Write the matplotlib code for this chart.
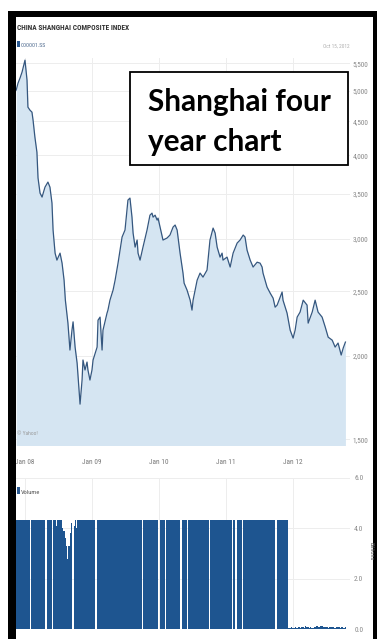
import datetime as dt
import matplotlib
matplotlib.use("Agg")
import matplotlib.pyplot as plt
import matplotlib.dates as mdates
from matplotlib import font_manager as fm
from matplotlib.font_manager import FontProperties
from matplotlib.patches import Rectangle
from matplotlib.textpath import TextPath
from matplotlib.ticker import NullLocator

# ---------------- data ----------------
price_dates = [
    "2007-11-14", "2007-11-24", "2007-12-05", "2007-12-16", "2008-01-01", "2008-01-12",
    "2008-01-17", "2008-01-28", "2008-02-08", "2008-02-14", "2008-02-24", "2008-03-06",
    "2008-03-12", "2008-03-23", "2008-04-03", "2008-04-19", "2008-05-05", "2008-05-16",
    "2008-05-27", "2008-06-02", "2008-06-13", "2008-06-23", "2008-07-10", "2008-07-21",
    "2008-08-01", "2008-08-08", "2008-08-22", "2008-09-02", "2008-09-13", "2008-09-19",
    "2008-09-30", "2008-10-11", "2008-10-27", "2008-11-07", "2008-11-12", "2008-11-23",
    "2008-12-04", "2008-12-09", "2008-12-20", "2008-12-31", "2009-01-06", "2009-01-28",
    "2009-02-02", "2009-02-13", "2009-02-24", "2009-03-01", "2009-03-23", "2009-03-28",
    "2009-04-08", "2009-04-25", "2009-05-06", "2009-05-22", "2009-06-13", "2009-06-29",
    "2009-07-15", "2009-07-26", "2009-08-06", "2009-08-12", "2009-08-23", "2009-09-03",
    "2009-09-08", "2009-09-19", "2009-10-05", "2009-10-27", "2009-11-12", "2009-11-23",
    "2009-11-29", "2009-12-10", "2009-12-21", "2009-12-26", "2010-01-06", "2010-01-22",
    "2010-02-13", "2010-03-01", "2010-03-18", "2010-03-29", "2010-04-09", "2010-04-25",
    "2010-05-11", "2010-05-17", "2010-06-02", "2010-06-19", "2010-06-29", "2010-07-05",
    "2010-07-16", "2010-07-27", "2010-08-12", "2010-08-28", "2010-09-19", "2010-10-05",
    "2010-10-22", "2010-11-02", "2010-11-13", "2010-11-29", "2010-12-10", "2010-12-15",
    "2011-01-06", "2011-01-23", "2011-02-08", "2011-03-02", "2011-03-18", "2011-04-04",
    "2011-04-14", "2011-04-25", "2011-05-12", "2011-05-28", "2011-06-19", "2011-07-05",
    "2011-07-16", "2011-07-21", "2011-08-01", "2011-08-12", "2011-08-29", "2011-09-14",
    "2011-09-25", "2011-10-06", "2011-10-22", "2011-11-02", "2011-11-07", "2011-11-29",
    "2011-12-16", "2012-01-01", "2012-01-12", "2012-01-23", "2012-02-08", "2012-02-25",
    "2012-03-17", "2012-03-23", "2012-04-14", "2012-04-30", "2012-05-16", "2012-06-07",
    "2012-06-24", "2012-07-10", "2012-08-01", "2012-08-17", "2012-09-02", "2012-09-19",
    "2012-09-30", "2012-10-12",
]
price_values = [
    5012, 5134, 5226, 5334, 5559, 5189,
    4725, 4677, 4644, 4517, 4260, 4044,
    3700, 3511, 3463, 3584, 3647, 3584,
    3392, 3090, 2853, 2785, 2853, 2756,
    2598, 2425, 2240, 2041, 2186, 2250,
    2062, 1951, 1693, 1840, 1972, 1905,
    1958, 1905, 1840, 1905, 1972, 2062,
    2263, 2287, 2041, 2186, 2319, 2343,
    2425, 2511, 2598, 2756, 3016, 3090,
    3427, 3451, 3231, 3058, 2913, 2985,
    2853, 2785, 2913, 3090, 3253, 3276,
    3231, 3253, 3198, 3220, 3122, 2985,
    3006, 3037, 3122, 3144, 3090, 2853,
    2663, 2572, 2511, 2425, 2343, 2425,
    2511, 2598, 2663, 2626, 2691, 2985,
    3111, 3058, 2913, 2814, 2853, 2785,
    2814, 2719, 2853, 2954, 2985, 3037,
    3016, 2883, 2785, 2719, 2765, 2756,
    2719, 2663, 2598, 2537, 2485, 2442,
    2367, 2384, 2450, 2494, 2425, 2319,
    2186, 2127, 2186, 2287, 2327, 2425,
    2384, 2240, 2327, 2425, 2327, 2287,
    2210, 2134, 2112, 2062, 2091, 2006,
    2055, 2098,
]
price_ticks = [1500, 2000, 2500, 3000, 3500, 4000, 4500, 5000, 5500]
price_tick_labels = ["1,500", "2,000", "2,500", "3,000", "3,500", "4,000", "4,500", "5,000", "5,500"]
year_ticks = ["2008-01-01", "2009-01-01", "2010-01-01", "2011-01-01", "2012-01-01"]
year_labels = ["Jan 08", "Jan 09", "Jan 10", "Jan 11", "Jan 12"]

# weekly volume (billions), first week starting Monday 2007-11-12
volume_first_week = "2007-11-12"
volume_values = [
    4.35, 4.35, 4.35, 4.35, 4.35, 4.35, 4.35, 4.35, 4.35, 4.35, 4.35, 0.0, 4.35,
    4.35, 4.35, 4.35, 4.35, 4.35, 4.35, 4.35, 4.35, 4.35, 4.35, 0.0, 4.35, 4.35,
    4.35, 4.35, 0.0, 4.35, 4.35, 4.1, 4.35, 4.35, 4.35, 4.35, 4.0, 3.9, 3.6,
    3.3, 2.8, 3.3, 3.8, 4.2, 0.0, 4.1, 4.35, 4.0, 4.35, 4.35, 4.35, 4.35,
    4.35, 4.35, 4.35, 4.35, 4.35, 4.35, 4.35, 4.35, 4.35, 4.35, 0.0, 4.35, 4.35,
    4.35, 4.35, 4.35, 4.35, 4.35, 4.35, 4.35, 4.35, 4.35, 4.35, 4.35, 4.35, 4.35,
    4.35, 4.35, 4.35, 4.35, 4.35, 4.35, 4.35, 4.35, 4.35, 4.35, 4.35, 4.35, 4.35,
    4.35, 4.35, 4.35, 4.35, 4.35, 4.35, 4.35, 0.0, 4.35, 4.35, 4.35, 4.35, 4.35,
    4.35, 4.35, 4.35, 4.35, 4.35, 4.35, 4.35, 0.0, 4.35, 4.35, 4.35, 4.35, 0.0,
    4.35, 4.35, 4.35, 4.35, 4.35, 4.35, 4.35, 4.35, 4.35, 4.35, 4.35, 0.0, 4.35,
    4.35, 4.35, 4.35, 0.0, 4.35, 4.35, 4.35, 4.35, 4.35, 4.35, 4.35, 4.35, 4.35,
    4.35, 4.35, 4.35, 4.35, 4.35, 4.35, 4.35, 0.0, 4.35, 4.35, 4.35, 4.35, 4.35,
    4.35, 4.35, 4.35, 4.35, 4.35, 4.35, 4.35, 4.35, 4.35, 4.35, 4.35, 4.35, 0.0,
    4.35, 4.35, 0.0, 4.35, 4.35, 4.35, 4.35, 0.0, 4.35, 4.35, 4.35, 4.35, 4.35,
    4.35, 4.35, 4.35, 4.35, 4.35, 4.35, 4.35, 4.35, 4.35, 4.35, 4.35, 4.35, 4.35,
    4.35, 4.35, 4.35, 4.35, 4.35, 4.35, 4.35, 0.0, 4.35, 4.35, 4.35, 4.35, 4.35,
    4.35, 4.35, 4.35, 4.35, 0.05, 0.04, 0.06, 0.05, 0.04, 0.07, 0.05, 0.04, 0.06,
    0.05, 0.08, 0.06, 0.05, 0.10, 0.07, 0.06, 0.05, 0.06, 0.04, 0.05, 0.07, 0.09,
    0.12, 0.08, 0.06, 0.10, 0.11, 0.07, 0.06, 0.08, 0.07, 0.05, 0.06, 0.09, 0.06,
    0.07, 0.05, 0.06, 0.08, 0.06, 0.05, 0.07, 0.06, 0.05, 0.06,
]
volume_ticks = [0, 2, 4, 6]
volume_tick_labels = ["0.0", "2.0", "4.0", "6.0"]

# ---------------- styling helpers ----------------
W, H = 377, 639
fig = plt.figure(figsize=(W / 100, H / 100), dpi=100)
fig.patch.set_facecolor("white")


def rect(l, t, r, b):
    return [l / W, 1 - b / H, (r - l) / W, (b - t) / H]


names = {f.name for f in fm.fontManager.ttflist}
NARROW, STRETCH = None, "normal"
for cand in ["Liberation Sans Narrow", "Arial Narrow", "Roboto Condensed", "Open Sans Condensed", "DejaVu Sans Condensed"]:
    if cand in names:
        NARROW = cand
        break
if NARROW is None:
    if any(f.name == "DejaVu Sans" and f.stretch == "condensed" for f in fm.fontManager.ttflist):
        NARROW, STRETCH = "DejaVu Sans", "condensed"
    elif "Roboto" in names:
        NARROW = "Roboto"
    else:
        NARROW = "DejaVu Sans"


def fprop(size, weight="normal", family=None):
    return FontProperties(family=family or NARROW, weight=weight,
                          stretch=STRETCH if family is None else "normal", size=size)


def fit_size(s, target_w, cap_px, weight="normal", family=None):
    fp = fprop(10, weight, family)
    w_pt = TextPath((0, 0), s, prop=fp).get_extents().width
    size_w = 10 * target_w / (w_pt * 100 / 72)
    return min(size_w, cap_px)


# ---------------- price panel ----------------
pd_dates = [dt.datetime.strptime(d, "%Y-%m-%d") for d in price_dates]
xl = (dt.datetime(2007, 11, 13), dt.datetime(2012, 11, 6))
yticks_dates = [dt.datetime.strptime(d, "%Y-%m-%d") for d in year_ticks]

ax = fig.add_axes(rect(16, 58, 350, 445))
ax.set_yscale("log")
ax.fill_between(pd_dates, price_values, 1000, color="#d5e5f2", lw=0, zorder=2)
ax.plot(pd_dates, price_values, color="#35577f", lw=0.9, zorder=3)
ax.set_xlim(*xl)
ax.set_ylim(1470, 5600)
lab_size = fit_size("5,500", 15, 7)
ax.yaxis.tick_right()
ax.set_yticks(price_ticks, price_tick_labels, fontproperties=fprop(lab_size))
ax.yaxis.set_minor_locator(NullLocator())
ax.tick_params(axis="y", length=0, pad=2, labelcolor="#8a8a8a")
ax.set_xticks(yticks_dates, year_labels, fontproperties=fprop(fit_size("Jan 08", 19, 7)))
ax.xaxis.set_minor_locator(NullLocator())
ax.tick_params(axis="x", length=0, pad=10, labelcolor="#7a7a7a")
ax.grid(True, color="#ededed", lw=0.7)
ax.set_axisbelow(True)
for sp in ax.spines.values():
    sp.set_visible(False)
ax.text(0.004, 0.03, "\u00a9 Yahoo!", transform=ax.transAxes, color="#9a9a9a",
        fontproperties=fprop(fit_size("\u00a9 Yahoo!", 20, 6)), va="center", ha="left", zorder=4)

# ---------------- volume panel ----------------
vstart = dt.datetime.strptime(volume_first_week, "%Y-%m-%d")
vdates = [vstart + dt.timedelta(days=7 * i) for i in range(len(volume_values))]
av = fig.add_axes(rect(16, 478, 350, 629))
av.bar(vdates, volume_values, width=7, align="edge", color="#1e5590", lw=0, zorder=3)
av.set_xlim(*xl)
av.set_ylim(0, 6)
av.yaxis.tick_right()
av.set_yticks(volume_ticks, volume_tick_labels, fontproperties=fprop(lab_size))
av.tick_params(axis="y", length=0, pad=3, labelcolor="#8a8a8a")
av.set_xticks(yticks_dates, [""] * len(yticks_dates))
av.tick_params(axis="x", length=0)
av.grid(True, color="#ededed", lw=0.7)
av.set_axisbelow(True)
for sp in av.spines.values():
    sp.set_visible(False)

# ---------------- overlay (frame, titles, annotation box) ----------------
ov = fig.add_axes([0, 0, 1, 1], zorder=10)
ov.set_xlim(0, W)
ov.set_ylim(H, 0)
ov.axis("off")
ov.patch.set_alpha(0)

# black screenshot frame
ov.add_patch(Rectangle((7.5, 10.5), 8, H - 10.5, color="black", lw=0))
ov.add_patch(Rectangle((7.5, 10.5), W - 7.5, 6, color="black", lw=0))
ov.add_patch(Rectangle((372.5, 10.5), W - 372.5, H - 10.5, color="black", lw=0))

title = "CHINA SHANGHAI COMPOSITE INDEX"
ov.text(17, 30, title, color="#333333", ha="left", va="baseline",
        fontproperties=fprop(fit_size(title, 111, 7.5, weight="bold"), weight="bold"))
ov.add_patch(Rectangle((16.5, 40.5), 3.5, 6.5, color="#2b5a92", lw=0))
ov.text(21, 47, "000001.SS", color="#4f6b8f", ha="left", va="baseline",
        fontproperties=fprop(fit_size("000001.SS", 24, 7)))
ov.text(350, 48, "Oct 15, 2012", color="#b0b0b0", ha="right", va="baseline",
        fontproperties=fprop(fit_size("Oct 15, 2012", 26, 6.5)))

ov.add_patch(Rectangle((16.5, 487), 3, 6.5, color="#2b5a92", lw=0))
ov.text(21, 493.5, "Volume", color="#555555", ha="left", va="baseline",
        fontproperties=fprop(fit_size("Volume", 19, 6.5)))
ov.text(370.5, 551, "Billions", color="#555555", ha="center", va="center", rotation=270,
        fontproperties=fprop(fit_size("Billions", 40, 4.5)))

# annotation box
ov.add_patch(Rectangle((130, 72), 218, 93, facecolor="white", edgecolor="black", lw=1.3))
box_font = "Lato" if "Lato" in names else "DejaVu Sans"
bsize = fit_size("Shanghai four", 182, 40, weight="bold", family=box_font)
ov.text(148, 111, "Shanghai four", ha="left", va="baseline", color="black",
        fontproperties=fprop(bsize, "bold", box_font))
ov.text(148, 151, "year chart", ha="left", va="baseline", color="black",
        fontproperties=fprop(bsize, "bold", box_font))

fig.savefig("out.png", dpi=100, facecolor="white")
